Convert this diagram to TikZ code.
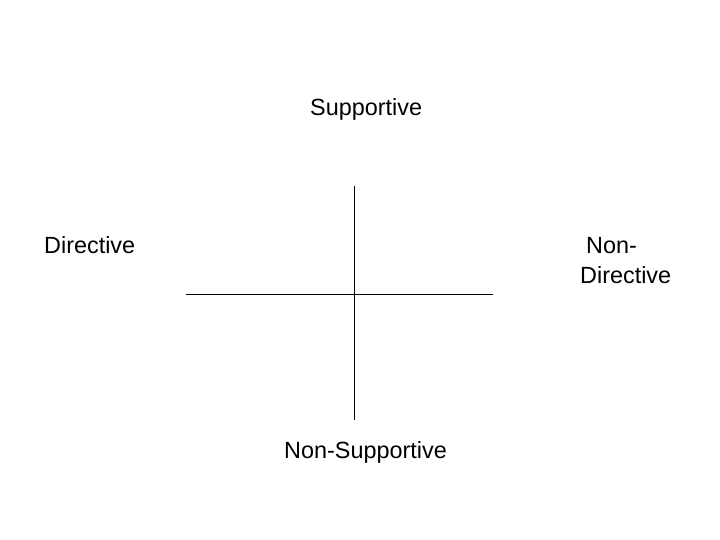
\documentclass[tikz,border=0pt]{standalone}
\usepackage{fontspec}
\setmainfont{Liberation Sans}
\begin{document}
\begin{tikzpicture}[x=1pt,y=-1pt,
  lbl/.style={anchor=base west,inner sep=0pt,font=\fontsize{23.4}{30}\selectfont},
  axis/.style={draw=black,line width=1pt}]
\useasboundingbox (0,0) rectangle (720,540);
\node[lbl] (sup) at (310,116) {Supportive};
\node[lbl] (dir) at (44,253) {Directive};
\node[lbl,align=left] (nd) at (586,253) {Non-};
\node[lbl] (nd2) at (580,283) {Directive};
\node[lbl] (nsup) at (284,458) {Non-Supportive};
\coordinate (vt) at (354,186);
\coordinate (vb) at (354,420);
\coordinate (hl) at (186,294);
\coordinate (hr) at (493,294);
\draw[axis] (vt) -- (vb);
\draw[axis] (hl) -- (hr);
\end{tikzpicture}
\end{document}
